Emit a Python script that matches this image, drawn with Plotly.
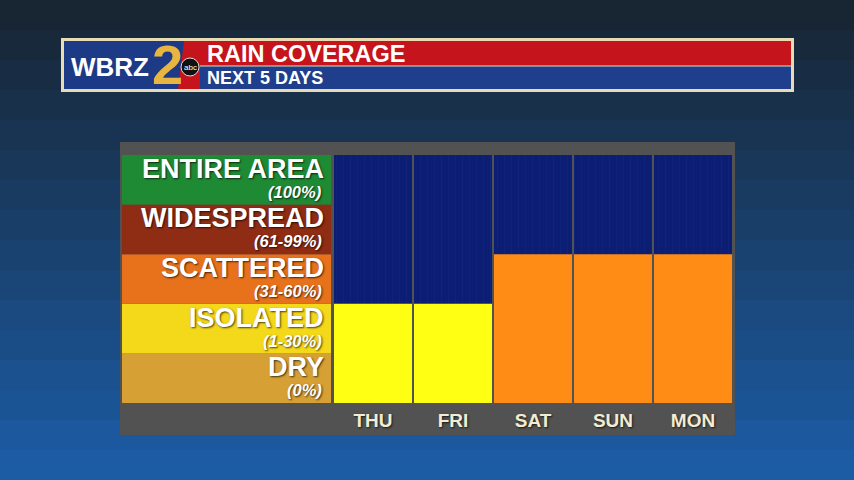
import plotly.graph_objects as go

# ---- data ----
days = ["THU", "FRI", "SAT", "SUN", "MON"]
levels = ["DRY", "ISOLATED", "SCATTERED", "WIDESPREAD", "ENTIRE AREA"]
level_ranges = ["(0%)", "(1-30%)", "(31-60%)", "(61-99%)", "(100%)"]
coverage = ["ISOLATED", "ISOLATED", "SCATTERED", "SCATTERED", "SCATTERED"]
title = "RAIN COVERAGE"
subtitle = "NEXT 5 DAYS"

# ---- styles ----
W, H = 854, 480
legend_colors = ["#d6a035", "#f4d81a", "#e8721c", "#8e2c14", "#1f8a34"]
bar_colors = {"ISOLATED": "#ffff14", "SCATTERED": "#ff8c14"}
FONT = "Liberation Sans, Arial, sans-serif"

def px(x):
    return x / W

def py(y):
    return 1 - y / H

fig = go.Figure()

heights = [levels.index(c) + 1 for c in coverage]
fig.add_trace(go.Bar(
    x=days, y=[len(levels)] * len(days),
    marker=dict(color="#0c1d74", line=dict(width=0),
                pattern=dict(shape="|", fgcolor="#3050b0", fgopacity=0.18, size=7, solidity=0.08)),
    hoverinfo="skip", showlegend=False))
fig.add_trace(go.Bar(
    x=days, y=heights,
    marker=dict(color=[bar_colors[c] for c in coverage], line=dict(width=0)),
    showlegend=False))

shapes = []
# background gradient bands
top = (24, 38, 52)
bot = (28, 92, 165)
n = 16
for i in range(n):
    t = i / (n - 1)
    c = tuple(int(top[k] + (bot[k] - top[k]) * t) for k in range(3))
    shapes.append(dict(type="rect", xref="paper", yref="paper", x0=0, x1=1,
                       y0=1 - (i + 1) / n, y1=1 - i / n,
                       fillcolor="rgb(%d,%d,%d)" % c, line=dict(width=0), layer="below"))
# grey panel
shapes.append(dict(type="rect", xref="paper", yref="paper", x0=px(120), x1=px(735),
                   y0=py(435), y1=py(142), fillcolor="#525252", line=dict(width=0), layer="below"))
# legend rows
for i, lv in enumerate(levels):
    shapes.append(dict(type="rect", xref="paper", yref="y", x0=px(122), x1=px(331),
                       y0=i, y1=i + 1, fillcolor=legend_colors[i], line=dict(width=0), layer="below"))

# header
shapes += [
    dict(type="rect", xref="paper", yref="paper", x0=px(61), x1=px(794), y0=py(92), y1=py(38),
         fillcolor="#e9dcb4", line=dict(width=0)),
    dict(type="rect", xref="paper", yref="paper", x0=px(64), x1=px(791), y0=py(66), y1=py(41),
         fillcolor="#c5141c", line=dict(width=0)),
    dict(type="rect", xref="paper", yref="paper", x0=px(64), x1=px(791), y0=py(89), y1=py(66),
         fillcolor="#1f3f8c", line=dict(width=0)),
    dict(type="rect", xref="paper", yref="paper", x0=px(64), x1=px(200), y0=py(89), y1=py(41),
         fillcolor="#1d3a86", line=dict(width=0)),
    dict(type="path", xref="paper", yref="paper",
         path="M %f %f L %f %f L %f %f L %f %f Z" % (px(184), py(41), px(200), py(41), px(200), py(89), px(178), py(89)),
         fillcolor="#c5141c", line=dict(width=0)),
    dict(type="line", xref="paper", yref="paper", x0=px(200), x1=px(791), y0=py(66), y1=py(66),
         line=dict(color="#e9dcb4", width=1)),
    dict(type="circle", xref="paper", yref="paper", x0=px(181), x1=px(199), y0=py(76), y1=py(58),
         fillcolor="#111111", line=dict(color="#dddddd", width=1)),
]

annotations = [
    dict(text="<b>WBRZ</b>", x=px(69), y=py(67), xref="paper", yref="paper", xanchor="left", yanchor="middle",
         showarrow=False, font=dict(family=FONT, size=26, color="white")),
    dict(text="<b>2</b>", x=px(167), y=py(65), xref="paper", yref="paper", xanchor="center", yanchor="middle",
         showarrow=False, font=dict(family=FONT, size=56, color="#e8b640")),
    dict(text="abc", x=px(190), y=py(67), xref="paper", yref="paper", xanchor="center", yanchor="middle",
         showarrow=False, font=dict(family=FONT, size=8, color="white")),
    dict(text="<b>" + title + "</b>", x=px(205), y=py(54), xref="paper", yref="paper", xanchor="left",
         yanchor="middle", showarrow=False, font=dict(family=FONT, size=23.5, color="white")),
    dict(text="<b>" + subtitle + "</b>", x=px(205), y=py(78), xref="paper", yref="paper", xanchor="left",
         yanchor="middle", showarrow=False, font=dict(family=FONT, size=18, color="white")),
]
shadow = "1px 1px 2px rgba(0,0,0,0.7)"
for i, lv in enumerate(levels):
    annotations.append(dict(text="<b>" + lv + "</b>", x=px(326), y=i + 0.72, xref="paper", yref="y",
                            xanchor="right", yanchor="middle", showarrow=False,
                            font=dict(family=FONT, size=27, color="white", shadow=shadow)))
    annotations.append(dict(text="<b><i>" + level_ranges[i] + "</i></b>", x=px(324), y=i + 0.26, xref="paper",
                            yref="y", xanchor="right", yanchor="middle", showarrow=False,
                            font=dict(family=FONT, size=16.5, color="white", shadow=shadow)))

fig.update_layout(
    width=W, height=H, autosize=False,
    margin=dict(l=0, r=0, t=0, b=0),
    paper_bgcolor="#1c3550", plot_bgcolor="#525252",
    barmode="overlay", bargap=0.025,
    shapes=shapes, annotations=annotations,
    xaxis=dict(domain=[px(333), px(733)], range=[-0.5, 4.5], type="category",
               showgrid=False, zeroline=False, showline=False, ticks="", ticklabelstandoff=4,
               tickfont=dict(family=FONT, size=19, color="#f2ecd2", weight="bold", shadow=shadow),
               fixedrange=True),
    yaxis=dict(domain=[py(403), py(155)], range=[0, len(levels)], showgrid=False, zeroline=False,
               showticklabels=False, showline=False, fixedrange=True),
    showlegend=False,
)

fig.write_html("out.html", config={"displayModeBar": False},
               post_script="document.body.style.margin='0';document.body.style.overflow='hidden';")
